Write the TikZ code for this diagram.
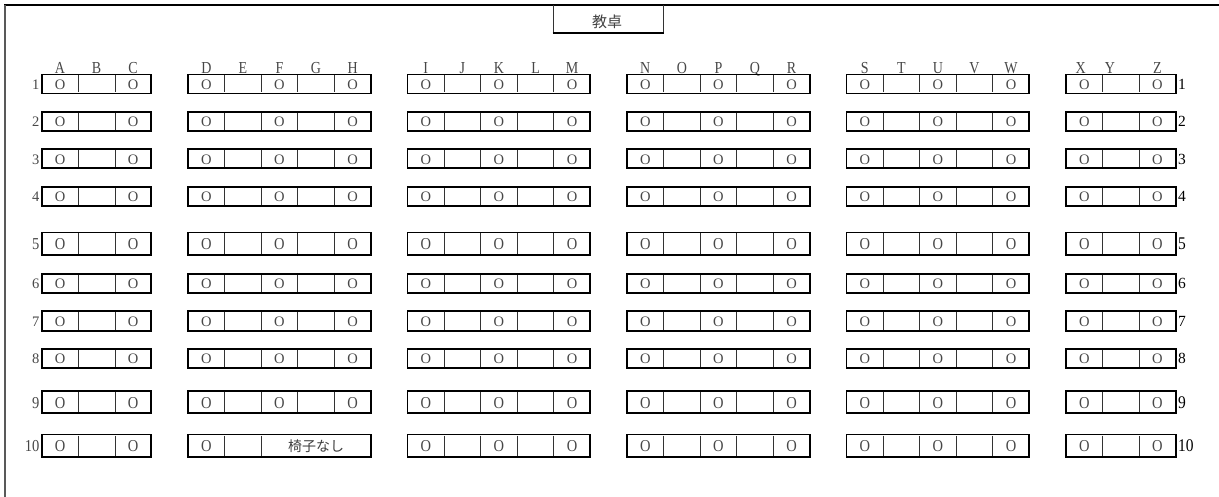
\documentclass[tikz,border=0pt]{standalone}
\usepackage{fontspec}
\setmainfont{Liberation Serif}
\newfontfamily\cjk{Noto Sans CJK JP}
\tikzset{
  declare function={cx(\c)=41.7+\c*36.58;},
  deskbox/.style={line width=1.9pt, black},
  divider/.style={line width=0.7pt, black!80},
  framebar/.style={line width=1.9pt},
  seat/.style={inner sep=0pt, text=black!72, font=\fontsize{14.5}{15}\selectfont},
  colletter/.style={inner sep=0pt, anchor=base, text=black!72, font=\fontsize{14}{15}\selectfont},
  rowlabL/.style={inner sep=0pt, anchor=east, text=black!72, font=\fontsize{14.5}{15}\selectfont},
  rowlabR/.style={inner sep=0pt, anchor=west, text=black, font=\fontsize{15.5}{16}\selectfont},
  jplabel/.style={inner sep=0pt, text=black!75},
}
\begin{document}
\begin{tikzpicture}[x=1pt,y=-1pt]
\useasboundingbox (0,0) rectangle (1219,497);
\fill[white] (0,0) rectangle (1219,497);
% outer frame (top and left)
\draw[framebar, black] (4,5) -- (1219,5);
\draw[framebar, black!65] (5,5) -- (5,497);
% teacher's desk
\coordinate (tdA) at (553.3,5);
\coordinate (tdB) at (553.3,33.3);
\coordinate (tdC) at (663.3,33.3);
\coordinate (tdD) at (663.3,5);
\draw[divider] (tdA) -- (tdB);
\draw[divider] (tdD) -- (tdC);
\draw[deskbox] ([xshift=-0.6pt]tdB) -- ([xshift=0.6pt]tdC);
\node[jplabel, font=\cjk\fontsize{15}{16}\selectfont] (teacher) at (607,22) {教卓};
% column letters
\foreach \L/\c in {A/0,B/1,C/2,D/4,E/5,F/6,G/7,H/8,I/10,J/11,K/12,L/13,M/14,N/16,O/17,P/18,Q/19,R/20,S/22,T/23,U/24,V/25,W/26,X/27.9,Y/28.7,Z/30}
  \node[colletter] (h-\L) at ({cx(\c+0.5)},73.3) {\scalebox{1}[1.2]{\L}};
% rows of desks
\foreach \yt/\yb/\vs [count=\r] in {74.5/93.5/1, 111.7/131/1, 149.3/168.3/1, 187/206/1, 232.5/255/1.15, 274/292.7/1, 311/331/1, 348.7/368.3/1, 391/413.3/1.15, 434.5/456.7/1.15}{
  \pgfmathsetmacro\ym{(\yt+\yb)/2}
  \foreach \ga/\gb in {0/3,4/9,10/15,16/21,22/27,28/31}
    \draw[deskbox] ({cx(\ga)},\yt) rectangle ({cx(\gb)},\yb);
  \foreach \c in {1,2,5,6,7,8,11,12,13,14,17,18,19,20,23,24,25,26,29,30}{
    \pgfmathtruncatemacro\nodiv{and(\r==10,and(\c>6,\c<9))}
    \ifnum\nodiv=0 \draw[divider] ({cx(\c)},\yt+1) -- ({cx(\c)},\yb-1);\fi
  }
  \foreach \c in {0,2,...,30}{
    \pgfmathtruncatemacro\noseat{and(\r==10,and(\c>5,\c<9))}
    \ifnum\noseat=0 \node[seat] (s-\r-\c) at ({cx(\c+0.5)},{\ym+0.6}) {\scalebox{1}[\vs]{O}};\fi
  }
  \node[rowlabL] (l-\r) at (39.5,{\ym+0.6}) {\scalebox{1}[\vs]{\r}};
  \node[rowlabR] (r-\r) at (1178,{\ym+0.4}) {\scalebox{1}[\vs]{\r}};
}
\node[jplabel, font=\cjk\fontsize{14}{15}\selectfont] (nochair) at (316,446) {椅子なし};
\end{tikzpicture}
\end{document}
